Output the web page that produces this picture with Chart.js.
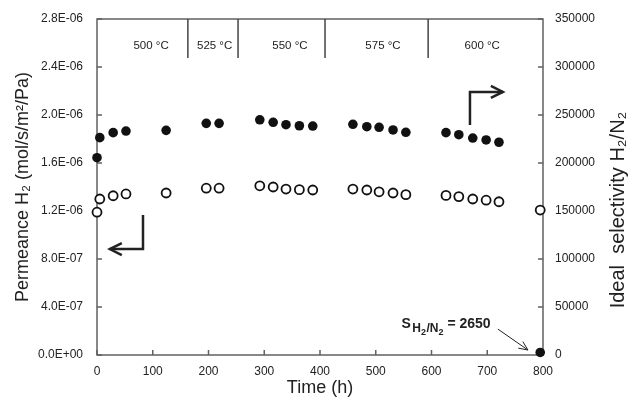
<!DOCTYPE html>
<html>
<head>
<meta charset="utf-8">
<script src="https://cdn.jsdelivr.net/npm/chart.js@4/dist/chart.umd.min.js"></script>
<style>
html, body { margin: 0; padding: 0; background: #fff; }
</style>
</head>
<body>
<canvas id="permChart" width="628" height="404"></canvas>
<script>
// Time on stream (h)
const timeHours = [0, 5, 29, 52, 124, 196, 219, 292, 316, 339, 363, 387, 459, 484, 506, 531, 554, 626, 649, 674, 698, 721, 795];
// H2 permeance (mol/s/m2/Pa) - open circles, left axis
const permeanceH2 = [1.19e-6, 1.30e-6, 1.327e-6, 1.342e-6, 1.35e-6, 1.39e-6, 1.39e-6, 1.41e-6, 1.40e-6, 1.383e-6, 1.378e-6, 1.375e-6,
  1.383e-6, 1.375e-6, 1.36e-6, 1.35e-6, 1.336e-6, 1.33e-6, 1.32e-6, 1.30e-6, 1.29e-6, 1.277e-6, 1.208e-6];
// Ideal selectivity H2/N2 - filled circles, right axis
const selectivity = [205500, 226400, 231600, 233300, 234000, 241300, 241300, 245000, 242400, 239900, 238800, 238500,
  240300, 237800, 237200, 234400, 232000, 231600, 229500, 226000, 224000, 221600, 2650];

// temperature steps
const tempLabels = ['500 °C', '525 °C', '550 °C', '575 °C', '600 °C'];
const tempLabelHours = [97, 211, 346, 513, 691];
const tempBoundaries = [163, 253, 409, 594];

const FONT = 'Liberation Sans, Arial, sans-serif';
const INK = '#222';
const AXIS = '#606060';

function sciLabel(v) {
  const s = Number(v).toExponential(1).split('e');
  const exp = parseInt(s[1], 10);
  const sign = exp < 0 ? '-' : '+';
  return s[0] + 'E' + sign + String(Math.abs(exp)).padStart(2, '0');
}

function chevron(ctx, tipX, tipY, fromX, fromY, len, spread) {
  const a = Math.atan2(tipY - fromY, tipX - fromX);
  ctx.beginPath();
  ctx.moveTo(tipX - len * Math.cos(a) + spread * Math.sin(a), tipY - len * Math.sin(a) - spread * Math.cos(a));
  ctx.lineTo(tipX, tipY);
  ctx.lineTo(tipX - len * Math.cos(a) - spread * Math.sin(a), tipY - len * Math.sin(a) + spread * Math.cos(a));
  ctx.stroke();
}

// frame, inward ticks and temperature dividers
const framePlugin = {
  id: 'frame',
  beforeDatasetsDraw(chart) {
    const {ctx, chartArea: a, scales} = chart;
    ctx.save();
    ctx.strokeStyle = AXIS;
    ctx.lineWidth = 1.5;
    ctx.strokeRect(a.left, a.top, a.right - a.left, a.bottom - a.top);
    ctx.beginPath();
    scales.x.ticks.forEach(t => {
      const px = scales.x.getPixelForValue(t.value);
      ctx.moveTo(px, a.bottom); ctx.lineTo(px, a.bottom - 5);
    });
    scales.y.ticks.forEach(t => {
      const py = scales.y.getPixelForValue(t.value);
      ctx.moveTo(a.left, py); ctx.lineTo(a.left + 5, py);
    });
    scales.y2.ticks.forEach(t => {
      const py = scales.y2.getPixelForValue(t.value);
      ctx.moveTo(a.right, py); ctx.lineTo(a.right - 5, py);
    });
    ctx.stroke();

    ctx.strokeStyle = '#444';
    ctx.beginPath();
    tempBoundaries.forEach(h => {
      const px = scales.x.getPixelForValue(h);
      ctx.moveTo(px, a.top); ctx.lineTo(px, a.top + 39);
    });
    ctx.stroke();

    ctx.fillStyle = INK;
    ctx.font = '11.5px ' + FONT;
    ctx.textAlign = 'center';
    ctx.textBaseline = 'middle';
    tempLabels.forEach((t, i) => {
      ctx.fillText(t, scales.x.getPixelForValue(tempLabelHours[i]), a.top + 27);
    });
    ctx.restore();
  },
  afterDatasetsDraw(chart) {
    const {ctx, chartArea: a, scales} = chart;
    const x = scales.x, y = scales.y, y2 = scales.y2;
    ctx.save();
    ctx.strokeStyle = INK;
    ctx.fillStyle = INK;
    ctx.lineWidth = 2.5;
    ctx.lineJoin = 'miter';

    // arrow to left axis (permeance)
    let x0 = x.getPixelForValue(82.5), yTop = y.getPixelForValue(1.167e-6), yBot = y.getPixelForValue(0.883e-6);
    let x1 = x.getPixelForValue(23);
    ctx.beginPath();
    ctx.moveTo(x0, yTop); ctx.lineTo(x0, yBot); ctx.lineTo(x1, yBot);
    ctx.stroke();
    chevron(ctx, x1, yBot, x0, yBot, 12, 6);

    // arrow to right axis (selectivity)
    x0 = x.getPixelForValue(669); yBot = y2.getPixelForValue(239600); yTop = y2.getPixelForValue(274000);
    x1 = x.getPixelForValue(728);
    ctx.beginPath();
    ctx.moveTo(x0, yBot); ctx.lineTo(x0, yTop); ctx.lineTo(x1, yTop);
    ctx.stroke();
    chevron(ctx, x1, yTop, x0, yTop, 12, 6);

    // S(H2/N2) = 2650 note
    ctx.lineWidth = 1;
    const sx = x.getPixelForValue(719), sy = y2.getPixelForValue(27000);
    const ex = x.getPixelForValue(773), ey = y2.getPixelForValue(5200);
    ctx.beginPath();
    ctx.moveTo(sx, sy); ctx.lineTo(ex, ey);
    ctx.stroke();
    chevron(ctx, ex, ey, sx, sy, 9, 4);

    let tx = x.getPixelForValue(546);
    const ty = y2.getPixelForValue(33300) + 5;
    ctx.textAlign = 'left';
    ctx.textBaseline = 'alphabetic';
    const parts = [['S', 14, 0, 1.5], ['H', 12, 4, 0], ['2', 9, 7, 0.5], ['/N', 12, 4, 0], ['2', 9, 7, 4], ['= 2650', 14, 0, 0]];
    parts.forEach(p => {
      ctx.font = 'bold ' + p[1] + 'px ' + FONT;
      ctx.fillText(p[0], tx, ty + p[2]);
      tx += ctx.measureText(p[0]).width + p[3];
    });

    // right axis title, reading bottom to top
    ctx.font = '20px ' + FONT;
    ctx.textAlign = 'center';
    ctx.textBaseline = 'middle';
    ctx.translate(618, 210);
    ctx.rotate(-Math.PI / 2);
    ctx.fillText('Ideal  selectivity H\u2082/N\u2082', 0, 0);
    ctx.restore();
  }
};

const permPoints = timeHours.map((t, i) => ({x: t, y: permeanceH2[i]}));
const selPoints = timeHours.map((t, i) => ({x: t, y: selectivity[i]}));

const ctx = document.getElementById('permChart').getContext('2d');
const permChart = new Chart(ctx, {
  type: 'scatter',
  data: {
    datasets: [{
      label: 'Permeance H2',
      data: permPoints,
      yAxisID: 'y',
      pointRadius: 4.5,
      pointBorderWidth: 1.8,
      borderColor: '#111',
      backgroundColor: '#fff',
      clip: false
    }, {
      label: 'Ideal selectivity H2/N2',
      data: selPoints,
      yAxisID: 'y2',
      pointRadius: 4.8,
      pointBorderWidth: 0,
      borderColor: '#111',
      backgroundColor: '#111',
      clip: false
    }]
  },
  options: {
    responsive: false,
    animation: false,
    layout: { padding: { top: 19 } },
    plugins: {
      legend: { display: false },
      tooltip: { enabled: false }
    },
    scales: {
      x: {
        type: 'linear',
        min: 0,
        max: 800,
        grid: { display: false },
        border: { display: false },
        ticks: { stepSize: 100, color: INK, font: { family: FONT, size: 12 }, padding: 1 },
        title: { display: true, text: 'Time (h)', color: INK, font: { family: FONT, size: 18 }, padding: { top: 0, bottom: 5 } },
        afterFit: s => { s.height = 49; }
      },
      y: {
        position: 'left',
        min: 0,
        max: 2.8e-6,
        grid: { display: false },
        border: { display: false },
        ticks: { stepSize: 4e-7, color: INK, font: { family: FONT, size: 12 }, padding: 6, callback: v => sciLabel(v) },
        title: { display: true, text: 'Permeance H\u2082 (mol/s/m\u00b2/Pa)', color: INK, font: { family: FONT, size: 18 }, padding: { top: 12, bottom: 0 } },
        afterFit: s => { s.width = 97; }
      },
      y2: {
        position: 'right',
        min: 0,
        max: 350000,
        grid: { display: false },
        border: { display: false },
        ticks: { stepSize: 50000, color: INK, font: { family: FONT, size: 12 }, padding: 4, callback: v => String(v) },
        afterFit: s => { s.width = 85; }
      }
    }
  },
  plugins: [framePlugin]
});
</script>
</body>
</html>
